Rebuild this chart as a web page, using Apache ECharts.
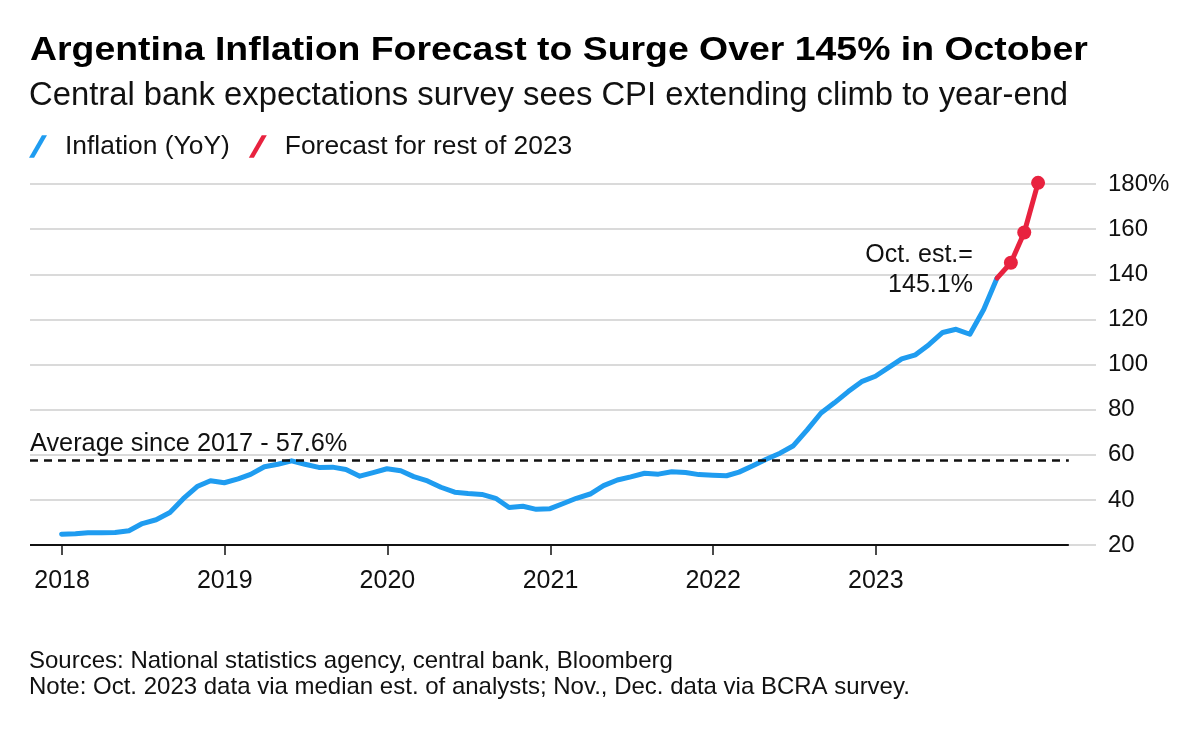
<!DOCTYPE html>
<html>
<head>
<meta charset="utf-8">
<script src="https://cdn.jsdelivr.net/npm/echarts@6/dist/echarts.min.js"></script>
<style>
html,body{margin:0;padding:0;background:#ffffff;}
#chart{width:1200px;height:729px;}
</style>
</head>
<body>
<div id="chart"></div>
<script>
// ---------- data ----------
const inflationMonths = [
  '2017-12',
  '2018-01','2018-02','2018-03','2018-04','2018-05','2018-06','2018-07','2018-08','2018-09','2018-10','2018-11','2018-12',
  '2019-01','2019-02','2019-03','2019-04','2019-05','2019-06','2019-07','2019-08','2019-09','2019-10','2019-11','2019-12',
  '2020-01','2020-02','2020-03','2020-04','2020-05','2020-06','2020-07','2020-08','2020-09','2020-10','2020-11','2020-12',
  '2021-01','2021-02','2021-03','2021-04','2021-05','2021-06','2021-07','2021-08','2021-09','2021-10','2021-11','2021-12',
  '2022-01','2022-02','2022-03','2022-04','2022-05','2022-06','2022-07','2022-08','2022-09','2022-10','2022-11','2022-12',
  '2023-01','2023-02','2023-03','2023-04','2023-05','2023-06','2023-07','2023-08','2023-09'
];
const inflationValues = [
  24.8,
  25.0, 25.4, 25.4, 25.5, 26.3, 29.5, 31.2, 34.4, 40.5, 45.9, 48.5, 47.6,
  49.3, 51.3, 54.7, 55.8, 57.3, 55.8, 54.4, 54.5, 53.5, 50.5, 52.1, 53.8,
  52.9, 50.3, 48.4, 45.6, 43.4, 42.8, 42.4, 40.7, 36.6, 37.2, 35.8, 36.1,
  38.5, 40.7, 42.6, 46.3, 48.8, 50.2, 51.8, 51.4, 52.5, 52.1, 51.2, 50.9,
  50.7, 52.3, 55.1, 58.0, 60.7, 64.0, 71.0, 78.5, 83.0, 88.0, 92.4, 94.8,
  98.8, 102.5, 104.3, 108.8, 114.2, 115.6, 113.4, 124.4, 138.3
];
const forecastMonths = ['2023-09', '2023-10', '2023-11', '2023-12'];
const forecastValues = [138.3, 145.1, 158.5, 180.5];
const yearTickLabels = ['2018', '2019', '2020', '2021', '2022', '2023'];
const averageValue = 57.6;
const seriesNames = ['Inflation (YoY)', 'Forecast for rest of 2023'];

// ---------- helpers ----------
function monthEnd(s) {
  const p = s.split('-').map(Number);
  return new Date(p[0], p[1], 0).getTime();
}
function yearStart(s) { return new Date(Number(s), 0, 1).getTime(); }

const axisMin = new Date(2017, 9, 21).getTime();
const axisMax = new Date(2024, 4, 9).getTime();
const ruleEnd = new Date(2024, 2, 9).getTime();
const yearTickValues = yearTickLabels.map(yearStart);

const inflationData = inflationMonths.map((m, i) => [monthEnd(m), inflationValues[i]]);
const forecastData = forecastMonths.map((m, i) => {
  const item = { value: [monthEnd(m), forecastValues[i]] };
  if (i === 0) { item.symbol = 'none'; }
  return item;
});

const BLUE = '#1f9cf0';
const RED = '#e8223f';
const INK = '#111111';
const FONT = '"Liberation Sans", Arial, sans-serif';

const chart = echarts.init(document.getElementById('chart'), null, { renderer: 'canvas' });

const option = {
  animation: false,
  backgroundColor: '#ffffff',
  textStyle: { fontFamily: FONT, color: INK },
  graphic: [
    {
      type: 'text',
      x: 30, y: 51,
      scaleX: 1.1, scaleY: 1,
      silent: true,
      style: {
        text: 'Argentina Inflation Forecast to Surge Over 145% in October',
        fontFamily: FONT, fontWeight: 'bold', fontSize: 34,
        fill: '#000000', align: 'left', verticalAlign: 'middle'
      }
    }
  ],
  title: [
    {
      text: 'Central bank expectations survey sees CPI extending climb to year-end',
      left: 29, top: 79, padding: 0,
      textStyle: { fontFamily: FONT, fontWeight: 'normal', fontSize: 32.8, color: INK }
    },
    {
      text: 'Sources: National statistics agency, central bank, Bloomberg\nNote: Oct. 2023 data via median est. of analysts; Nov., Dec. data via BCRA survey.',
      left: 29, top: 648, padding: 0,
      textStyle: { fontFamily: FONT, fontWeight: 'normal', fontSize: 24, lineHeight: 26, color: INK }
    }
  ],
  legend: {
    left: 29, top: 133.5, padding: 0,
    itemWidth: 18, itemHeight: 24, itemGap: 19,
    icon: 'path://M0,20 L4.5,20 L16,0 L11.5,0 Z',
    data: seriesNames,
    textStyle: { fontFamily: FONT, fontSize: 26.4, color: INK, padding: [0, 0, 0, 13] }
  },
  grid: { left: 30, right: 104, top: 184, bottom: 184, containLabel: false },
  xAxis: {
    type: 'time',
    min: axisMin,
    max: axisMax,
    axisLine: { show: false },
    axisTick: {
      show: true, length: 10, inside: false,
      customValues: yearTickValues,
      lineStyle: { color: INK, width: 1.5 }
    },
    axisLabel: {
      customValues: yearTickValues,
      formatter: '{yyyy}',
      fontSize: 25, color: INK, margin: 24, fontFamily: FONT
    },
    splitLine: { show: false }
  },
  yAxis: {
    type: 'value',
    position: 'right',
    min: 20, max: 180, interval: 20,
    axisLine: { show: false },
    axisTick: { show: false },
    axisLabel: {
      margin: 12, fontSize: 24, color: INK, fontFamily: FONT,
      formatter: v => (v === 180 ? v + '%' : String(v))
    },
    splitLine: { show: true, lineStyle: { color: '#dadada', width: 2 } }
  },
  series: [
    {
      name: seriesNames[0],
      type: 'line',
      data: inflationData,
      showSymbol: false,
      symbol: 'none',
      color: BLUE,
      lineStyle: { color: BLUE, width: 5, cap: 'round', join: 'round' },
      z: 3,
      markLine: {
        silent: true,
        symbol: ['none', 'none'],
        animation: false,
        data: [
          [
            {
              coord: [axisMin, averageValue],
              lineStyle: { color: INK, width: 2.5, type: [8, 6] },
              label: {
                show: true,
                position: 'insideStartTop',
                formatter: 'Average since 2017 - ' + averageValue + '%',
                fontSize: 25.3, color: INK, fontFamily: FONT,
                distance: [0, 4]
              }
            },
            { coord: [ruleEnd, averageValue] }
          ],
          [
            {
              coord: [axisMin, 20],
              lineStyle: { color: INK, width: 2, type: 'solid' },
              label: { show: false }
            },
            { coord: [ruleEnd, 20] }
          ]
        ]
      }
    },
    {
      name: seriesNames[1],
      type: 'line',
      data: forecastData,
      clip: false,
      symbol: 'circle',
      symbolSize: 14,
      showSymbol: true,
      color: RED,
      itemStyle: { color: RED },
      lineStyle: { color: RED, width: 5, cap: 'round', join: 'round' },
      z: 4,
      markPoint: {
        silent: true,
        symbol: 'circle',
        symbolSize: 0,
        data: [
          {
            coord: [monthEnd(forecastMonths[1]), forecastValues[1]],
            label: {
              show: true,
              position: 'left',
              distance: 38,
              offset: [0, 7],
              align: 'right',
              formatter: 'Oct. est.=\n' + forecastValues[1] + '%',
              fontSize: 25, lineHeight: 30, color: INK, fontFamily: FONT
            }
          }
        ]
      }
    }
  ]
};

chart.setOption(option);
</script>
</body>
</html>
